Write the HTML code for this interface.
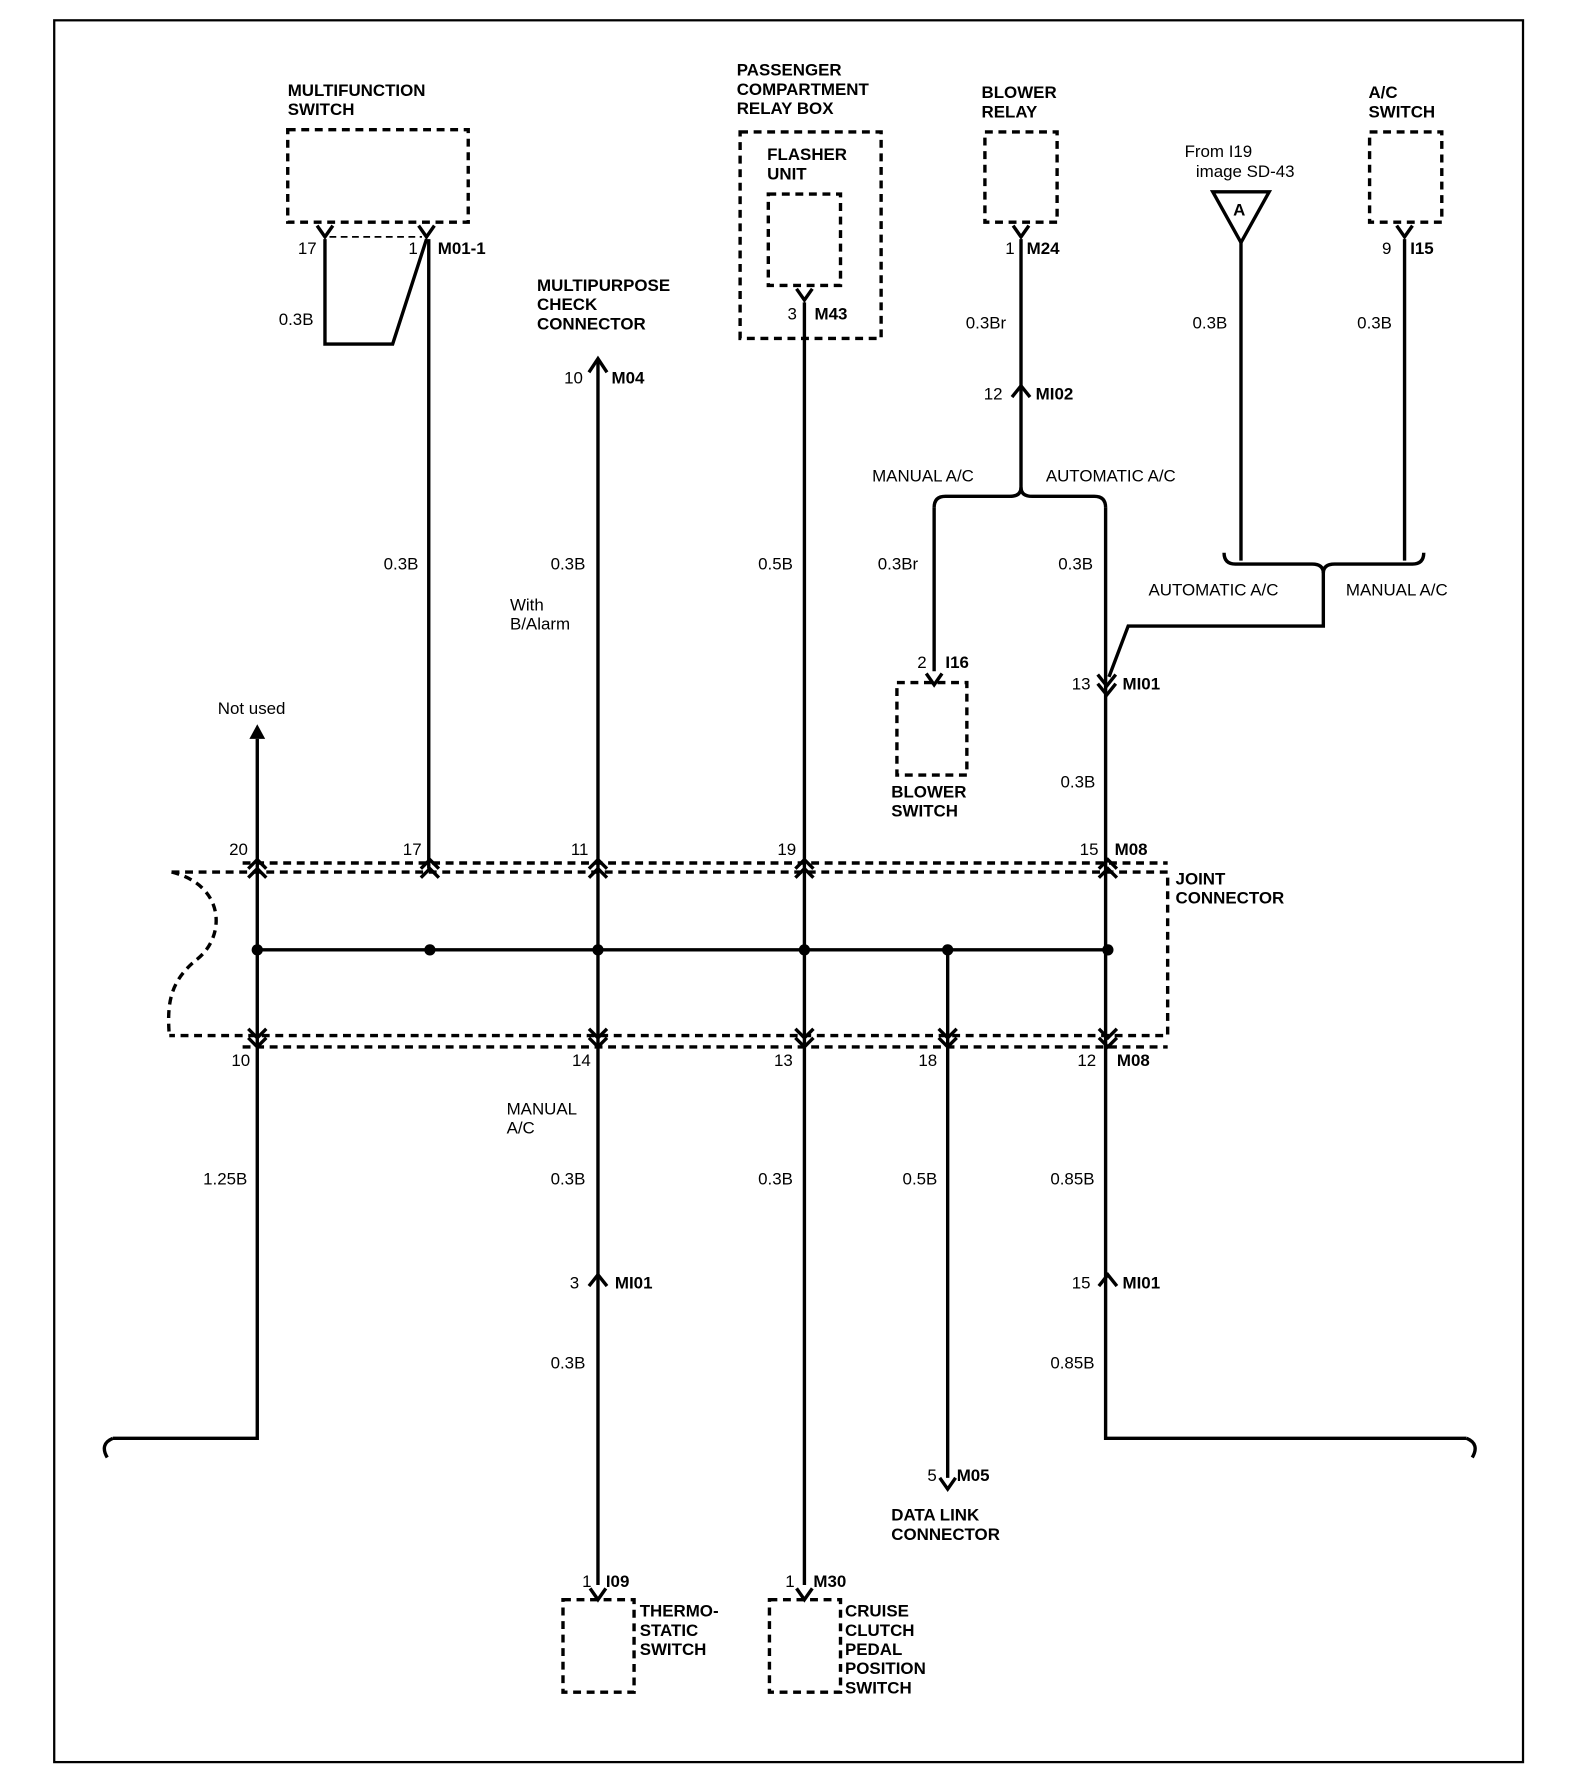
<!DOCTYPE html>
<html><head><meta charset="utf-8"><style>
html,body{margin:0;padding:0;background:#fff}
svg{display:block}
text{font-family:"Liberation Sans",Arial,sans-serif;font-size:15px;fill:#000}
.b{font-weight:bold}
</style></head><body>
<svg width="1584" height="1770" viewBox="0 0 1404 1569" xmlns="http://www.w3.org/2000/svg">
<g fill="none" stroke="#000">
<rect x="48" y="18" width="1302" height="1544" stroke-width="2"/>
<!-- dashed boxes -->
<g stroke-width="3" stroke-dasharray="7,5">
<rect x="255" y="115" width="160" height="82"/>
<rect x="656" y="117" width="125" height="183"/>
<rect x="681" y="172" width="64" height="81"/>
<rect x="873" y="117" width="64" height="80"/>
<rect x="1214" y="117" width="64" height="80"/>
<rect x="795" y="605" width="62" height="82"/>
<rect x="499" y="1418" width="63" height="82"/>
<rect x="682" y="1418" width="63" height="82"/>
<path d="M215 765 H1035 M152 773 H1035 V918 H150 M215 928 H1035 M152 773 C200 785 200 830 175 850 C150 870 148 890 150 918"/>
<path d="M292 210 H374" stroke-width="1.5" stroke-dasharray="6,4"/>
</g>
<!-- wires -->
<g stroke-width="3">
<path d="M288 212 V305 H348 L378 212"/>
<path d="M380 212 V770"/>
<path d="M530 320 V1405"/>
<path d="M713 268 V1405"/>
<path d="M905 212 V435"/>
<path d="M828 450 V595"/>
<path d="M980 450 V1275 H1300"/>
<path d="M1100 215 V497"/>
<path d="M1245 212 V497"/>
<path d="M1173 505 V555 H1000 L983 600"/>
<path d="M228 655 V1275 H100"/>
<path d="M840 842 V1310"/>
<path d="M228 842 H982"/>
<path d="M828 450 Q828 440 838 440 H895 Q905 440 905 432 Q905 440 915 440 H970 Q980 440 980 450"/>
<path d="M1085 490 Q1085 500 1095 500 H1163 Q1173 500 1173 508 Q1173 500 1183 500 H1252 Q1262 500 1262 490"/>
<path d="M100 1275 Q88 1280 95 1292 M1300 1275 Q1312 1280 1305 1292"/>
<!-- female Y pins -->
<path d="M281 200 L288 210 L295 200 M371 200 L378 210 L385 200 M706 256 L713 266 L720 256 M898 200 L905 210 L912 200 M1238 200 L1245 210 L1252 200 M821 597 L828 607 L835 597 M833 1310 L840 1320 L847 1310 M523 1408 L530 1418 L537 1408 M706 1408 L713 1418 L720 1408"/>
<!-- male ^ -->
<path d="M897 352 L905 342 L913 352 M522 1140 L530 1130 L538 1140 M974 1140 L982 1130 L990 1140 M973 598 L981 608 L989 598 M973 606 L981 616 L989 606"/>
<!-- joint connector chevrons -->
<path d="M220 770 L228 762 L236 770 M220 778 L228 770 L236 778 M373 770 L381 762 L389 770 M373 778 L381 770 L389 778 M522 770 L530 762 L538 770 M522 778 L530 770 L538 778 M705 770 L713 762 L721 770 M705 778 L713 770 L721 778 M974 770 L982 762 L990 770 M974 778 L982 770 L990 778"/>
<path d="M220 912 L228 920 L236 912 M220 920 L228 928 L236 920 M522 912 L530 920 L538 912 M522 920 L530 928 L538 920 M705 912 L713 920 L721 912 M705 920 L713 928 L721 920 M832 912 L840 920 L848 912 M832 920 L840 928 L848 920 M974 912 L982 920 L990 912 M974 920 L982 928 L990 920"/>
<path d="M522 330 L530 318 L538 330"/>
</g>
<path d="M1075 170 H1125 L1100 215 Z" stroke-width="3"/>
</g>
<g fill="#000">
<path d="M221 655 L228 642 L235 655 Z"/>
<circle cx="228" cy="842" r="5"/><circle cx="381" cy="842" r="5"/><circle cx="530" cy="842" r="5"/><circle cx="713" cy="842" r="5"/><circle cx="840" cy="842" r="5"/><circle cx="982" cy="842" r="5"/>
</g>
<g class="b">
<text x="255" y="85">MULTIFUNCTION</text><text x="255" y="102">SWITCH</text>
<text x="476" y="258">MULTIPURPOSE</text><text x="476" y="275">CHECK</text><text x="476" y="292">CONNECTOR</text>
<text x="653" y="67">PASSENGER</text><text x="653" y="84">COMPARTMENT</text><text x="653" y="101">RELAY BOX</text>
<text x="680" y="142">FLASHER</text><text x="680" y="159">UNIT</text>
<text x="870" y="87">BLOWER</text><text x="870" y="104">RELAY</text>
<text x="1213" y="87">A/C</text><text x="1213" y="104">SWITCH</text>
<text x="790" y="707">BLOWER</text><text x="790" y="724">SWITCH</text>
<text x="1042" y="784">JOINT</text><text x="1042" y="801">CONNECTOR</text>
<text x="567" y="1433">THERMO-</text><text x="567" y="1450">STATIC</text><text x="567" y="1467">SWITCH</text>
<text x="749" y="1433">CRUISE</text><text x="749" y="1450">CLUTCH</text><text x="749" y="1467">PEDAL</text><text x="749" y="1484">POSITION</text><text x="749" y="1501">SWITCH</text>
<text x="790" y="1348">DATA LINK</text><text x="790" y="1365">CONNECTOR</text>
<text x="388" y="225">M01-1</text><text x="542" y="340">M04</text><text x="722" y="283">M43</text>
<text x="910" y="225">M24</text><text x="1250" y="225">I15</text><text x="918" y="354">MI02</text>
<text x="838" y="592">I16</text><text x="995" y="611">MI01</text><text x="988" y="758">M08</text><text x="990" y="945">M08</text>
<text x="545" y="1142">MI01</text><text x="995" y="1142">MI01</text><text x="848" y="1313">M05</text>
<text x="537" y="1407">I09</text><text x="721" y="1407">M30</text><text x="1093" y="191">A</text>
</g>
<g>
<text x="264" y="225">17</text><text x="362" y="225">1</text><text x="500" y="340">10</text><text x="698" y="283">3</text>
<text x="891" y="225">1</text><text x="1225" y="225">9</text><text x="872" y="354">12</text><text x="813" y="592">2</text>
<text x="950" y="611">13</text>
<text x="247" y="288">0.3B</text><text x="340" y="505">0.3B</text><text x="488" y="505">0.3B</text>
<text x="452" y="541">With</text><text x="452" y="558">B/Alarm</text>
<text x="672" y="505">0.5B</text><text x="856" y="291">0.3Br</text><text x="778" y="505">0.3Br</text><text x="938" y="505">0.3B</text>
<text x="1057" y="291">0.3B</text><text x="1203" y="291">0.3B</text><text x="940" y="698">0.3B</text>
<text x="773" y="427">MANUAL A/C</text><text x="927" y="427">AUTOMATIC A/C</text>
<text x="1018" y="528">AUTOMATIC A/C</text><text x="1193" y="528">MANUAL A/C</text>
<text x="1050" y="139">From I19</text><text x="1060" y="157">image SD-43</text>
<text x="193" y="633">Not used</text>
<text x="203" y="758">20</text><text x="357" y="758">17</text><text x="506" y="758">11</text><text x="689" y="758">19</text><text x="957" y="758">15</text>
<text x="205" y="945">10</text><text x="507" y="945">14</text><text x="686" y="945">13</text><text x="814" y="945">18</text><text x="955" y="945">12</text>
<text x="180" y="1050">1.25B</text><text x="449" y="988">MANUAL</text><text x="449" y="1005">A/C</text>
<text x="488" y="1050">0.3B</text><text x="672" y="1050">0.3B</text><text x="800" y="1050">0.5B</text><text x="931" y="1050">0.85B</text>
<text x="505" y="1142">3</text><text x="950" y="1142">15</text>
<text x="488" y="1213">0.3B</text><text x="931" y="1213">0.85B</text>
<text x="822" y="1313">5</text><text x="516" y="1407">1</text><text x="696" y="1407">1</text>
</g>
</svg>
</body></html>
